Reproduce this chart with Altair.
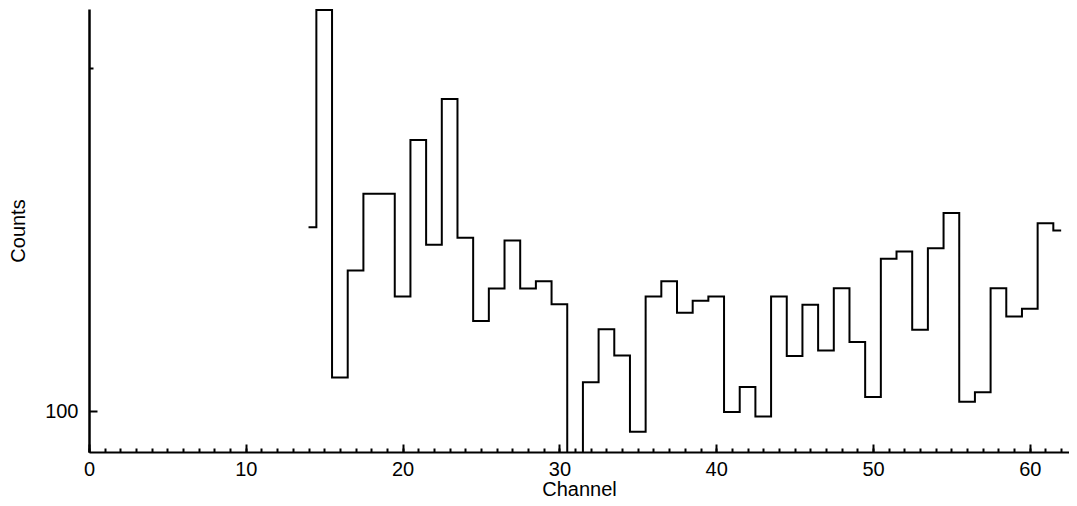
import altair as alt
import pandas as pd

channels = list(range(14, 63))
counts = [145.0, 225.0, 107.0, 132.9, 155.2, 155.2, 126.1, 173.0, 140.0, 188.0,
          142.0, 120.0, 128.1, 141.2, 128.1, 130.0, 124.1, 85.0, 106.0, 118.0,
          111.9, 95.9, 126.1, 130.0, 122.0, 125.0, 126.1, 99.8, 105.0, 98.9,
          126.1, 111.8, 124.0, 113.0, 128.2, 115.0, 102.9, 136.1, 138.1, 117.9,
          139.0, 149.3, 101.9, 103.9, 128.2, 121.1, 123.0, 146.2, 144.1]

x_major = [0, 10, 20, 30, 40, 50, 60]
x_minor = list(range(0, 63))
y_major = [100]
y_minor = [200]
x_domain = [0, 62.5]
y_domain = [92.05, 225.5]

df = pd.DataFrame({"Channel": channels, "Counts": counts})

W, H = 980, 443
FONT = "Liberation Sans"
xs = alt.Scale(domain=x_domain, nice=False, zero=False)
ys = alt.Scale(type="log", domain=y_domain, nice=False)

base = alt.Chart(df)

main = base.mark_line(interpolate="step", color="black", strokeWidth=2, clip=True).encode(
    x=alt.X("Channel:Q", scale=xs,
            axis=alt.Axis(values=x_major, ticks=False, tickSize=0, labelPadding=7,
                          domainWidth=2, domainColor="black", labelColor="black",
                          labelFontSize=20, labelFont=FONT, title="Channel",
                          titleFontSize=20, titleFont=FONT, titleFontWeight="normal",
                          titleColor="black", titlePadding=0, grid=False,
                          labelFlush=False)),
    y=alt.Y("Counts:Q", scale=ys,
            axis=alt.Axis(values=y_major, ticks=False, tickSize=0, labelPadding=11,
                          domainWidth=2.5, domainColor="black", labelColor="black",
                          labelFontSize=20, labelFont=FONT, title="Counts",
                          titleFontSize=20, titleFont=FONT, titleFontWeight="normal",
                          titleColor="black", titlePadding=16, grid=False,
                          format="d")),
)

minor = base.mark_line(opacity=0).encode(
    x=alt.X("Channel:Q", scale=xs,
            axis=alt.Axis(orient="top", offset=-H, values=x_minor, labels=False,
                          domain=False, tickSize=4, tickWidth=2, tickColor="black",
                          title=None, grid=False)),
    y=alt.Y("Counts:Q", scale=ys,
            axis=alt.Axis(orient="right", offset=-W, values=y_minor, labels=False,
                          domain=False, tickSize=4, tickWidth=2, tickColor="black",
                          title=None, grid=False)),
)

major = base.mark_line(opacity=0).encode(
    x=alt.X("Channel:Q", scale=xs,
            axis=alt.Axis(orient="top", offset=-H, values=x_major, labels=False,
                          domain=False, tickSize=8, tickWidth=2, tickColor="black",
                          title=None, grid=False)),
    y=alt.Y("Counts:Q", scale=ys,
            axis=alt.Axis(orient="right", offset=-W, values=y_major, labels=False,
                          domain=False, tickSize=8, tickWidth=2, tickColor="black",
                          title=None, grid=False)),
)

chart = (
    alt.layer(main, minor, major)
    .resolve_axis(x="independent", y="independent")
    .properties(width=W, height=H,
                autosize=alt.AutoSizeParams(type="none"),
                padding={"left": 81, "top": 1, "right": 0, "bottom": 46})
    .configure_view(stroke=None)
)

chart.save("out.html", embed_options={"renderer": "svg", "actions": False})
